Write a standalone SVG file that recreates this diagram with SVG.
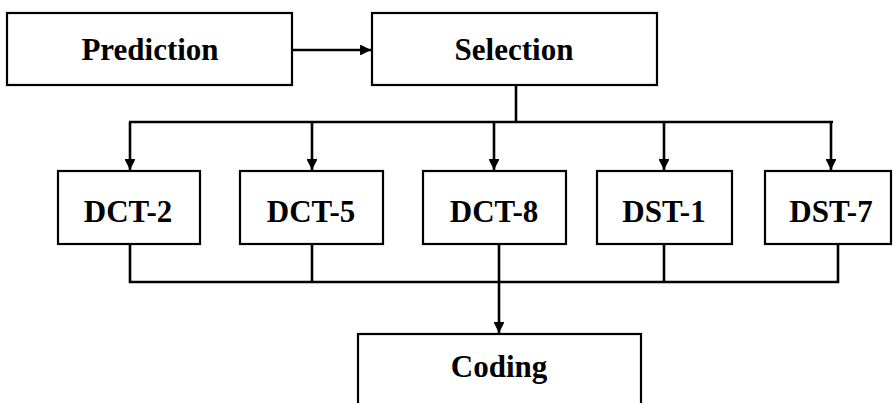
<svg xmlns="http://www.w3.org/2000/svg" width="893" height="403" viewBox="0 0 893 403">
<defs>
<style>
.box{fill:#fff;stroke:#000;stroke-width:2.2}
.lbl{font-family:'Liberation Serif','Times New Roman',serif;font-weight:700;font-size:31px;fill:#000;text-anchor:middle}
.ln{fill:none;stroke:#000;stroke-width:2.6}
</style>
<marker id="ah" viewBox="0 0 10 10" refX="10" refY="5" markerWidth="4.6" markerHeight="4.2" orient="auto" markerUnits="strokeWidth">
<path d="M0,0 L10,5 L0,10 z" fill="#000"/>
</marker>
</defs>
<rect width="893" height="403" fill="#fff"/>
<g id="connectors">
<path class="ln" d="M292,50 H371" marker-end="url(#ah)"/>
<path class="ln" d="M516,85 V122"/>
<path class="ln" d="M129,122 H833"/>
<path class="ln" d="M130,122 V170" marker-end="url(#ah)"/>
<path class="ln" d="M312,122 V170" marker-end="url(#ah)"/>
<path class="ln" d="M494,122 V170" marker-end="url(#ah)"/>
<path class="ln" d="M664,122 V170" marker-end="url(#ah)"/>
<path class="ln" d="M831,122 V170" marker-end="url(#ah)"/>
<path class="ln" d="M130,244 V282 H838 V244"/>
<path class="ln" d="M312,244 V282"/>
<path class="ln" d="M664,244 V282"/>
<path class="ln" d="M499,244 V333" marker-end="url(#ah)"/>
</g>
<g id="prediction"><rect class="box" x="7" y="13" width="285" height="72"/><text class="lbl" x="150" y="60">Prediction</text></g>
<g id="selection"><rect class="box" x="372" y="13" width="285" height="72"/><text class="lbl" x="514" y="60">Selection</text></g>
<g id="dct2"><rect class="box" x="58" y="171" width="142" height="73"/><text class="lbl" x="128" y="222">DCT-2</text></g>
<g id="dct5"><rect class="box" x="240" y="171" width="143" height="73"/><text class="lbl" x="311" y="222">DCT-5</text></g>
<g id="dct8"><rect class="box" x="423" y="171" width="143" height="73"/><text class="lbl" x="494" y="222">DCT-8</text></g>
<g id="dst1"><rect class="box" x="597" y="171" width="135" height="73"/><text class="lbl" x="664" y="222">DST-1</text></g>
<g id="dst7"><rect class="box" x="765" y="171" width="126" height="73"/><text class="lbl" x="831" y="222">DST-7</text></g>
<g id="coding"><rect class="box" x="358" y="334" width="283" height="90"/><text class="lbl" x="499" y="377">Coding</text></g>
</svg>
